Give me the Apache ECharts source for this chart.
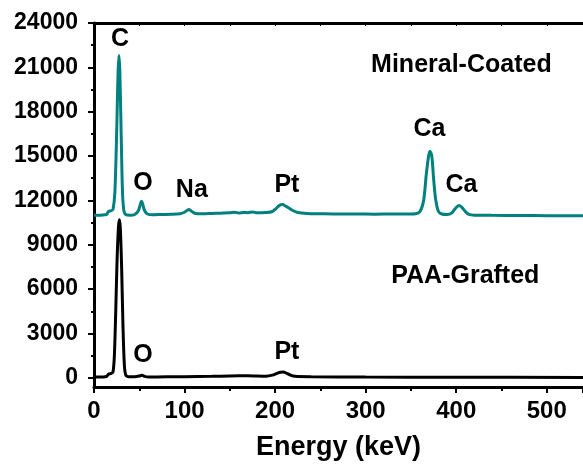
<!DOCTYPE html>
<html><head><meta charset="utf-8">
<script src="https://cdn.jsdelivr.net/npm/echarts@6/dist/echarts.min.js"></script>
<style>html,body{margin:0;padding:0;background:#fff}#c{width:583px;height:466px}</style>
</head><body><div id="c"></div>
<script>
// Mineral-Coated spectrum (teal)
const mineralEnergy = [0,5,10,14,16,19,21,23,25,26.5,27.5,28.5,30,31.5,33,35,40,45,49,51,52.5,54,56,59,65,75,85,95,100,103,105,108,112,120,130,140,150,155,160,165,170,175,180,190,197,201,205,208,212,216,220,225,235,250,270,290,310,330,345,355,360,364,367,369.5,371,373,375,377,380,384,390,395,399,403,406,410,414,420,440,470,500,540];
const mineralCounts = [11000,11000,11020,11050,11250,11300,11400,12500,16500,20500,21800,20800,16500,12500,11300,11050,11000,11050,11300,11700,11950,11700,11300,11080,11030,11050,11060,11100,11200,11330,11380,11250,11120,11100,11120,11140,11160,11200,11150,11180,11170,11220,11160,11180,11250,11450,11680,11720,11600,11450,11300,11180,11120,11100,11080,11080,11070,11080,11080,11100,11250,12000,13800,15000,15330,15000,13500,12200,11300,11080,11050,11150,11450,11650,11550,11250,11050,11000,10990,10980,10970,10960];
// PAA-Grafted spectrum (black)
const paaEnergy = [0,10,14,16,19,21,22.5,24,25.5,27,28,29,30.5,32,33.5,35,38,45,50,53,56,60,80,100,130,150,170,190,197,202,206,209,213,217,222,240,300,400,540];
const paaCounts = [50,60,100,250,300,400,1500,4500,8000,10200,10700,10200,7500,3500,900,200,80,80,120,170,100,60,70,80,100,130,140,110,180,300,380,390,300,180,100,70,50,40,30];
// Tick values
const yMajorTicks = [0,3000,6000,9000,12000,15000,18000,21000,24000];
const yMinorTicks = [1500,4500,7500,10500,13500,16500,19500,22500];
// Peak annotations
const mineralLabels = ['C','O','Na','Pt','Ca','Ca','Mineral-Coated'];
const mineralLabelX = [28.7,54,108,213,370.5,405.7,405.7];
const mineralLabelY = [22930,13180,12710,13050,16810,13050,21180];
const paaLabels = ['O','Pt','PAA-Grafted'];
const paaLabelX = [54,213,410];
const paaLabelY = [1550,1750,6860];

const FONT = "'Liberation Sans', Arial, sans-serif";
function toPairs(xs, ys){ return xs.map((x,i)=>[x, ys[i]]); }
function marks(names, xs, ys){
  return names.map((n,i)=>({name:n, coord:[xs[i], ys[i]]}));
}
const markLabel = {show:true, position:'inside', formatter:'{b}', color:'#000', fontWeight:'bold', fontSize:25, fontFamily:FONT};

const chart = echarts.init(document.getElementById('c'));
chart.setOption({
  animation:false,
  backgroundColor:'#fff',
  grid:{left:94, right:0, top:23, bottom:76},
  xAxis:[{
    type:'value', min:0, max:540, interval:100, position:'bottom',
    axisLine:{show:true, onZero:false, lineStyle:{color:'#000', width:3}},
    axisTick:{show:true, length:6, lineStyle:{color:'#000', width:2}},
    minorTick:{show:true, splitNumber:2, length:4, lineStyle:{color:'#000', width:2}},
    splitLine:{show:false},
    axisLabel:{color:'#000', fontWeight:'bold', fontSize:24, fontFamily:FONT, margin:12,
      showMaxLabel:false, formatter:v=>String(v)},
    name:'Energy (keV)', nameLocation:'middle', nameGap:47,
    nameTextStyle:{color:'#000', fontWeight:'bold', fontSize:27, fontFamily:FONT}
  },{
    type:'value', min:0, max:540, interval:50, position:'top',
    axisLine:{show:true, onZero:false, lineStyle:{color:'#000', width:3}},
    axisTick:{show:true, inside:true, length:3, lineStyle:{color:'#000', width:1}},
    axisLabel:{show:false}, splitLine:{show:false}
  }],
  yAxis:[{
    type:'value', min:-620, max:24000, position:'left',
    axisLine:{show:true, onZero:false, lineStyle:{color:'#000', width:3}},
    axisTick:{show:true, length:6, customValues:yMajorTicks, lineStyle:{color:'#000', width:2}},
    axisLabel:{customValues:yMajorTicks, formatter:v=>String(v), color:'#000', fontWeight:'bold', fontSize:23, fontFamily:FONT, margin:16},
    splitLine:{show:false}
  },{
    type:'value', min:-620, max:24000, position:'left',
    axisLine:{show:false},
    axisTick:{show:true, length:3, customValues:yMinorTicks, lineStyle:{color:'#000', width:2}},
    axisLabel:{show:false},
    splitLine:{show:false}
  }],
  series:[{
    name:'Mineral-Coated', type:'line', xAxisIndex:0, yAxisIndex:0,
    data:toPairs(mineralEnergy, mineralCounts), showSymbol:false, smooth:0.3,
    lineStyle:{color:'#00807E', width:3}, itemStyle:{color:'#00807E'},
    markPoint:{symbol:'circle', symbolSize:0, label:markLabel, data:marks(mineralLabels, mineralLabelX, mineralLabelY)}
  },{
    name:'PAA-Grafted', type:'line', xAxisIndex:0, yAxisIndex:0,
    data:toPairs(paaEnergy, paaCounts), showSymbol:false, smooth:0.3,
    lineStyle:{color:'#000', width:3}, itemStyle:{color:'#000'},
    markPoint:{symbol:'circle', symbolSize:0, label:markLabel, data:marks(paaLabels, paaLabelX, paaLabelY)}
  }]
});
</script></body></html>
